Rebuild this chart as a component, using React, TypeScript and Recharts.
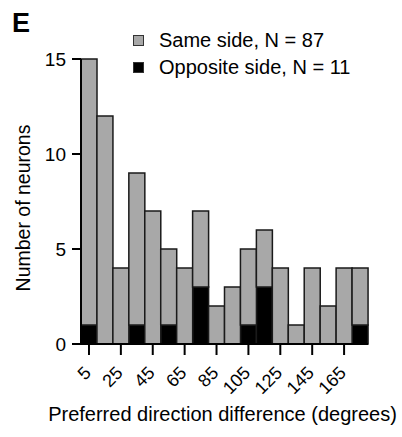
import React from "react";
import { BarChart, Bar, XAxis, YAxis, Label } from "recharts";

const bins = [5, 15, 25, 35, 45, 55, 65, 75, 85, 95, 105, 115, 125, 135, 145, 155, 165, 175];
const sameSide = [14, 12, 4, 8, 7, 4, 4, 4, 2, 3, 4, 3, 4, 1, 4, 2, 4, 3];
const oppositeSide = [1, 0, 0, 1, 0, 1, 0, 3, 0, 0, 1, 3, 0, 0, 0, 0, 0, 1];
const yTicks = [0, 5, 10, 15];
const seriesNames = ["Same side, N = 87", "Opposite side, N = 11"];

const data = bins.map((b, i) => ({ bin: b, same: sameSide[i], opposite: oppositeSide[i] }));

const FONT = '"Liberation Sans", Arial, Helvetica, sans-serif';
const GRAY = "#a8a8a8";

const XTick = (props: any) => {
  const { x, y, payload } = props;
  const ax = x + 3;
  const ay = y + 19;
  return (
    <text
      x={ax}
      y={ay}
      transform={`rotate(-45, ${ax}, ${ay})`}
      textAnchor="end"
      fontSize={18}
      fontFamily={FONT}
      fill="#000"
    >
      {payload.value}
    </text>
  );
};

export default function App() {
  return (
    <div style={{ position: "absolute", left: 0, top: 0, width: 402, height: 437, background: "#fff", fontFamily: FONT }}>
      <BarChart
        width={402}
        height={437}
        data={data}
        margin={{ top: 59, right: 34, bottom: 33, left: 31 }}
        barCategoryGap={0}
        barGap={0}
      >
        <XAxis
          dataKey="bin"
          type="category"
          interval={1}
          tickSize={11}
          tickMargin={0}
          height={60}
          tick={<XTick />}
          axisLine={{ stroke: "#000", strokeWidth: 2 }}
          tickLine={{ stroke: "#000", strokeWidth: 2 }}
        >
          <Label
            content={(p: any) => {
              const vb = p.viewBox || {};
              return (
                <text
                  x={vb.x + vb.width / 2 - 2}
                  y={421}
                  textAnchor="middle"
                  fontSize={20}
                  fontFamily={FONT}
                  fill="#000"
                >
                  Preferred direction difference (degrees)
                </text>
              );
            }}
          />
        </XAxis>
        <YAxis
          type="number"
          domain={[0, 15]}
          ticks={yTicks}
          width={50}
          tickSize={9}
          tickMargin={6}
          tick={{ fontSize: 19, fontFamily: FONT, fill: "#000" }}
          axisLine={{ stroke: "#000", strokeWidth: 2 }}
          tickLine={{ stroke: "#000", strokeWidth: 2 }}
        >
          <Label
            content={() => (
              <text
                x={30}
                y={208}
                transform="rotate(-90, 30, 208)"
                textAnchor="middle"
                fontSize={19.5}
                fontFamily={FONT}
                fill="#000"
              >
                Number of neurons
              </text>
            )}
          />
        </YAxis>
        <Bar dataKey="opposite" stackId="a" fill="#000" stroke="#1a1a1a" strokeWidth={1.5} isAnimationActive={false} />
        <Bar dataKey="same" stackId="a" fill={GRAY} stroke="#1a1a1a" strokeWidth={1.5} isAnimationActive={false} />
      </BarChart>

      <div style={{ position: "absolute", left: 12, top: 8, fontSize: 27, fontWeight: 700, lineHeight: "30px" }}>E</div>

      <div style={{ position: "absolute", left: 133, top: 27, fontSize: 20, lineHeight: "27px", color: "#000" }}>
        {seriesNames.map((n, i) => (
          <div key={n} style={{ display: "flex", alignItems: "center", height: 27, whiteSpace: "nowrap" }}>
            <span
              style={{
                display: "inline-block",
                width: 9,
                height: 9,
                background: i === 0 ? GRAY : "#000",
                border: "1px solid #333",
                marginRight: 15,
              }}
            />
            <span>{n}</span>
          </div>
        ))}
      </div>
    </div>
  );
}
